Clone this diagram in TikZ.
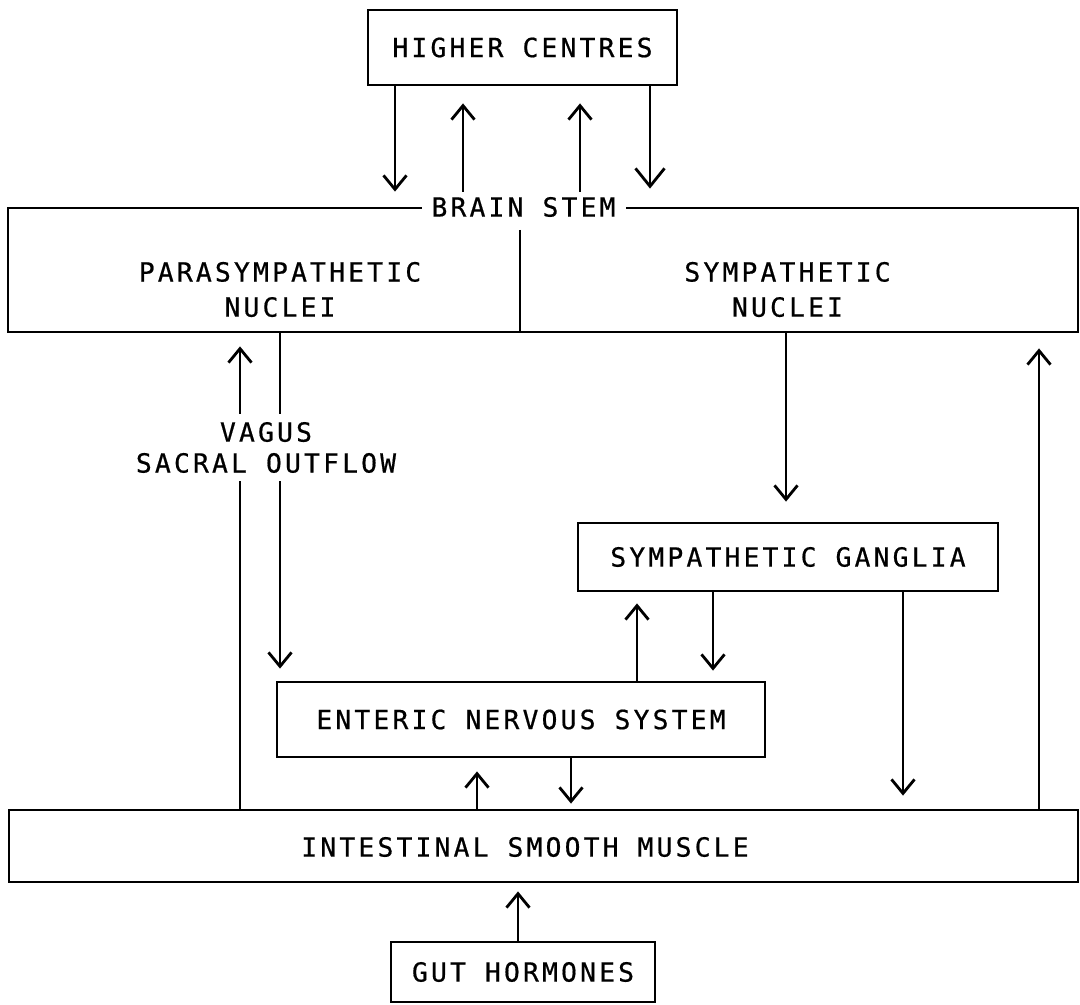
\documentclass[tikz,border=0pt]{standalone}
\usepackage{fontspec}
\newfontfamily\plotfont[LetterSpace=12, FakeBold=0.6]{DejaVu Sans Mono}
\usetikzlibrary{arrows.meta}

\begin{document}
\begin{tikzpicture}[
		box/.style={draw, line width=0.8pt, inner sep=0pt},
		lbl/.style={font=\plotfont\fontsize{7.5}{10}\selectfont, align=center, inner sep=0pt},
		arr/.style={line width=0.8pt, -{Straight Barb[length=1.4mm,width=2.3mm]}},
		bigarr/.style={line width=0.8pt, -{Straight Barb[length=1.8mm,width=2.9mm]}}
	]
		%%%%% START %%%%%
		\useasboundingbox (0,0) rectangle (10.8,-10.05);
		
		% boxes
		\node[box, lbl, minimum width=3.09cm, minimum height=0.75cm] (hc) at (5.225,-0.475) {HIGHER CENTRES};
		\node[box, minimum width=10.70cm, minimum height=1.24cm] (stem) at (5.43,-2.70) {};
		\node[lbl] (pn) at (2.80,-2.895) {PARASYMPATHETIC\\NUCLEI};
		\node[lbl] (sn) at (7.875,-2.895) {SYMPATHETIC\\NUCLEI};
		\node[box, lbl, minimum width=4.20cm, minimum height=0.68cm] (gang) at (7.88,-5.57) {SYMPATHETIC GANGLIA};
		\node[box, lbl, minimum width=4.88cm, minimum height=0.75cm] (ens) at (5.21,-7.195) {ENTERIC NERVOUS SYSTEM};
		\node[box, minimum width=10.69cm, minimum height=0.72cm] (ism) at (5.435,-8.46) {};
		\node[lbl] (ismtext) at (5.25,-8.47) {INTESTINAL SMOOTH MUSCLE};
		\node[box, lbl, minimum width=2.64cm, minimum height=0.60cm] (gh) at (5.23,-9.72) {GUT HORMONES};
		
		% divider in brain stem
		\coordinate (div) at (5.20,-2.30);
		\draw[line width=0.8pt] (div) -- (stem.south -| div);
		
		% columns of the connectors
		\coordinate (cA) at (3.95,0);
		\coordinate (cB) at (4.63,0);
		\coordinate (cC) at (5.80,0);
		\coordinate (cD) at (6.50,0);
		\coordinate (cE) at (2.40,0);
		\coordinate (cF) at (2.80,0);
		\coordinate (cG) at (7.86,0);
		\coordinate (cH) at (10.39,0);
		\coordinate (cI) at (6.37,0);
		\coordinate (cJ) at (7.13,0);
		\coordinate (cK) at (9.03,0);
		\coordinate (cL) at (4.77,0);
		\coordinate (cM) at (5.71,0);
		\coordinate (cN) at (5.18,0);
		
		\draw[arr, shorten >=1.5mm] (hc.south -| cA) -- (stem.north -| cA);
		\draw[arr, shorten <=1.1mm, shorten >=1.7mm] (stem.north -| cB) -- (hc.south -| cB);
		\draw[arr, shorten <=1.1mm, shorten >=1.7mm] (stem.north -| cC) -- (hc.south -| cC);
		\draw[bigarr, shorten >=1.8mm] (hc.south -| cD) -- (stem.north -| cD);
		
		\draw[arr, shorten >=1.3mm] (ism.north -| cE) -- (stem.south -| cE);
		\draw[arr, shorten >=1.2mm] (stem.south -| cF) -- (ens.north -| cF);
		\draw[arr, shorten >=2mm] (stem.south -| cG) -- (gang.north -| cG);
		\draw[arr, shorten >=1.5mm] (ism.north -| cH) -- (stem.south -| cH);
		
		\draw[arr, shorten >=1.1mm] (ens.north -| cI) -- (gang.south -| cI);
		\draw[arr, shorten >=1mm] (gang.south -| cJ) -- (ens.north -| cJ);
		\draw[arr, shorten >=1.3mm] (gang.south -| cK) -- (ism.north -| cK);
		
		\draw[arr, shorten >=1.3mm] (ism.north -| cL) -- (ens.south -| cL);
		\draw[arr, shorten >=0.5mm] (ens.south -| cM) -- (ism.north -| cM);
		\draw[arr, shorten >=0.8mm] (gh.north -| cN) -- (ism.south -| cN);
		
		% labels over the lines
		\node[lbl, fill=white, inner xsep=1mm, inner ysep=0.5mm] (bs) at (5.235,-2.07) {BRAIN STEM};
		\node[lbl, font=\plotfont\fontsize{7.5}{8.8}\selectfont, fill=white, inner xsep=1mm, inner ysep=0.8mm] (vagus) at (2.66,-4.475) {VAGUS\\SACRAL OUTFLOW};
		%%%%% END %%%%%
\end{tikzpicture}
\end{document}
